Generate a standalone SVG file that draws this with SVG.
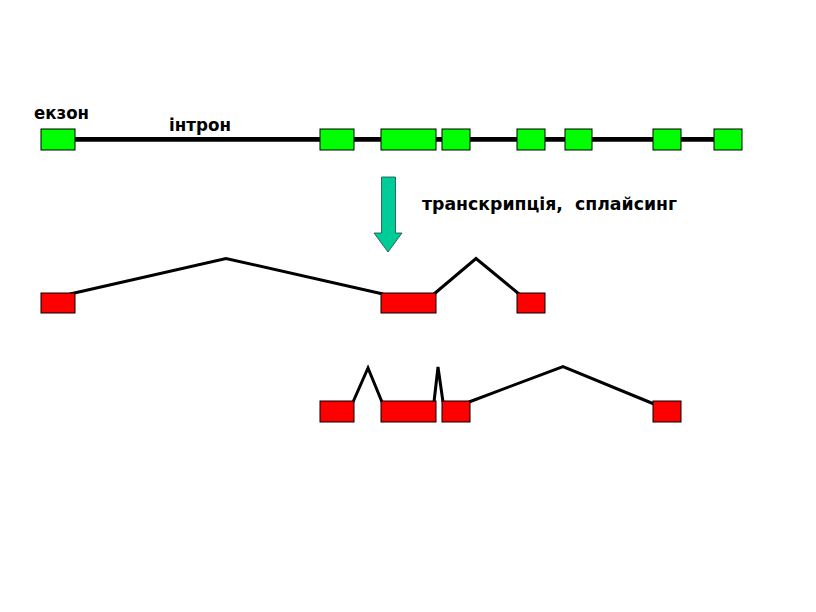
<svg xmlns="http://www.w3.org/2000/svg" width="816" height="612" viewBox="0 0 816 612">
<style>
.ex{fill:#00FF00;stroke:#000;stroke-width:1}
.rd{fill:#FF0000;stroke:#000;stroke-width:1}
.ln{fill:none;stroke:#000;stroke-width:3;stroke-linejoin:miter}
.lbl{font-family:"DejaVu Sans","Liberation Sans",sans-serif;font-weight:bold;fill:#000}
</style>
<rect width="816" height="612" fill="#fff"/>
<g id="connectors">
<line x1="75" y1="139.3" x2="714" y2="139.3" stroke="#000" stroke-width="4.7"/>
<polyline class="ln" points="70,294 226,258.5 383,294"/>
<polyline class="ln" points="434,294 476,258.5 519,294"/>
<polyline class="ln" points="353,402 368,368 382,402"/>
<polyline class="ln" points="434,402 438,367 443,402"/>
<polyline class="ln" points="469,402 563,366.5 654,404"/>
</g>
<g id="gene">
<rect class="ex" x="41" y="129" width="34" height="21"/>
<rect class="ex" x="320" y="129" width="34" height="21"/>
<rect class="ex" x="381" y="129" width="55" height="21"/>
<rect class="ex" x="442" y="129" width="28" height="21"/>
<rect class="ex" x="517" y="129" width="28" height="21"/>
<rect class="ex" x="565" y="129" width="27" height="21"/>
<rect class="ex" x="653" y="129" width="28" height="21"/>
<rect class="ex" x="714" y="129" width="28" height="21"/>
</g>
<g id="label-exon"><text class="lbl" x="34" y="119" font-size="17" textLength="55" lengthAdjust="spacingAndGlyphs">екзон</text></g>
<g id="label-intron"><text class="lbl" x="169" y="131" font-size="17" textLength="62" lengthAdjust="spacingAndGlyphs">інтрон</text></g>
<g id="arrow">
<polygon points="381.5,177 395.5,177 395.5,233 402,233 388,252 374,233 381.5,233" fill="#00CC99" stroke="#1a4a3a" stroke-width="0.8"/>
</g>
<g id="label-process"><text class="lbl" x="422" y="210" font-size="18" textLength="255" lengthAdjust="spacingAndGlyphs" xml:space="preserve">транскрипція,  сплайсинг</text></g>
<g id="mrna1">
<rect class="rd" x="41" y="293" width="34" height="20"/>
<rect class="rd" x="381" y="293" width="55" height="20"/>
<rect class="rd" x="517" y="293" width="28" height="20"/>
</g>
<g id="mrna2">
<rect class="rd" x="320" y="401" width="34" height="21"/>
<rect class="rd" x="381" y="401" width="55" height="21"/>
<rect class="rd" x="442" y="401" width="28" height="21"/>
<rect class="rd" x="653" y="401" width="28" height="21"/>
</g>
</svg>
